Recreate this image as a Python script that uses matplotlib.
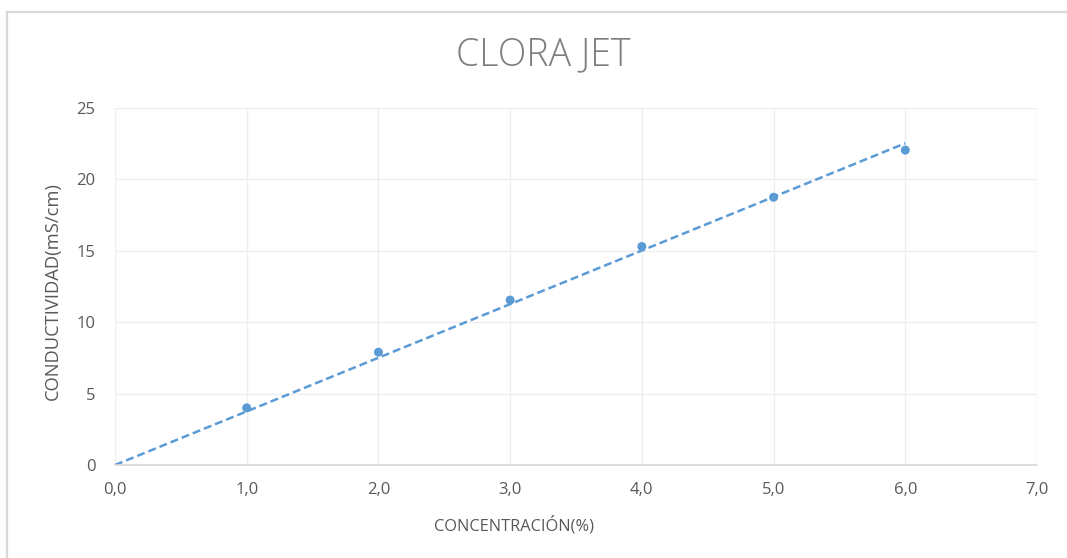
import matplotlib
matplotlib.use("Agg")
import matplotlib.pyplot as plt
from matplotlib.lines import Line2D
from matplotlib.ticker import FuncFormatter, MultipleLocator
import numpy as np

title = "CLORA JET"
x_label = "CONCENTRACIÓN(%)"
y_label = "CONDUCTIVIDAD(mS/cm)"
concentracion = [1.0, 2.0, 3.0, 4.0, 5.0, 6.0]
conductividad = [4.0, 7.9, 11.55, 15.3, 18.75, 22.05]

W, H = 1067, 558
fig = plt.figure(figsize=(W / 100, H / 100), dpi=100)
plt.rcParams['font.family'] = ['Open Sans', 'DejaVu Sans']

x0, x1, ytop, ybot = 115, 1037, 108, 465
ax = fig.add_axes([x0 / W, 1 - ybot / H, (x1 - x0) / W, (ybot - ytop) / H])

point_color = "#5B9BD5"
text_color = "#595959"
grid_color = "#EEEEEE"

x = np.array(concentracion)
y = np.array(conductividad)
slope = np.sum(x * y) / np.sum(x * x)
xt = np.array([0.0, x.max()])
ax.plot(xt, slope * xt, linestyle=(0, (3.2, 1.6)), color=point_color, lw=1.8, zorder=2)
ax.scatter(x, y, s=42, color=point_color, zorder=3, edgecolors='none')

ax.set_xlim(0, 7)
ax.set_ylim(0, 25)
ax.xaxis.set_major_locator(MultipleLocator(1))
ax.yaxis.set_major_locator(MultipleLocator(5))
ax.xaxis.set_major_formatter(FuncFormatter(lambda v, p: f"{v:.1f}".replace(".", ",")))
ax.yaxis.set_major_formatter(FuncFormatter(lambda v, p: f"{v:.0f}"))
ax.grid(True, color=grid_color, lw=1.0, zorder=0)
for s in ["top", "right", "left"]:
    ax.spines[s].set_visible(False)
ax.spines["bottom"].set_color("#D9D9D9")
ax.spines["bottom"].set_linewidth(1.2)
ax.tick_params(axis='both', length=0, colors=text_color, labelsize=12)
ax.tick_params(axis='x', pad=12)
ax.tick_params(axis='y', pad=14)

ax.set_xlabel(x_label, color=text_color, fontsize=11.8)
ax.set_ylabel(y_label, color=text_color, fontsize=13.2, fontweight='medium')
ax.xaxis.set_label_coords((514 - x0) / (x1 - x0), -(525 - ybot) / (ybot - ytop))
ax.yaxis.set_label_coords(-(x0 - 53) / (x1 - x0), (ybot - 291) / (ybot - ytop))
ax.xaxis.label.set_va('center')
ax.yaxis.label.set_va('center')

fig.text(543 / W, 1 - 55 / H, title, ha='center', va='center', fontsize=27,
         color="#7F7F7F", fontweight='light')

fig.add_artist(Line2D([7 / W, 7 / W], [0, 1 - 12 / H], color="#D9D9D9", lw=1.6,
                      transform=fig.transFigure))
fig.add_artist(Line2D([7 / W, 1], [1 - 12 / H, 1 - 12 / H], color="#D9D9D9", lw=1.6,
                      transform=fig.transFigure))

fig.savefig("out.png", dpi=100)
